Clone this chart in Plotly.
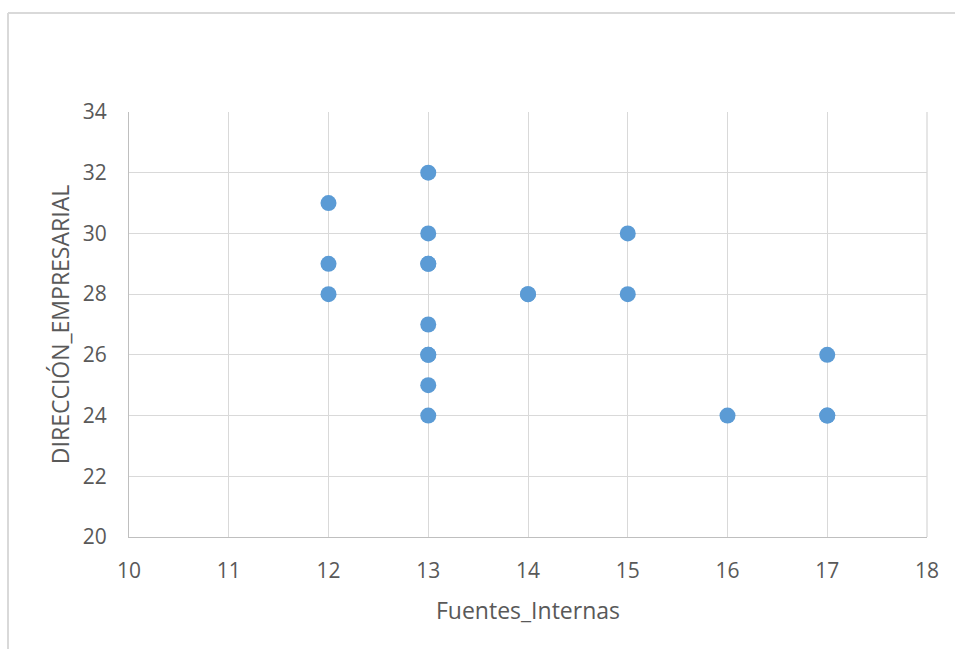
import plotly.graph_objects as go

# Observations: internal sources score vs. business management score
fuentes_internas = [12, 12, 12, 13, 13, 13, 13, 13, 13, 13, 13, 13, 14, 14, 15, 15, 16, 17, 17, 17]
direccion_empresarial = [31, 29, 28, 32, 30, 29, 29, 27, 26, 26, 25, 24, 28, 28, 30, 28, 24, 26, 24, 24]

x_ticks = [10, 11, 12, 13, 14, 15, 16, 17, 18]
y_ticks = [20, 22, 24, 26, 28, 30, 32, 34]

FONT = "'Open Sans', sans-serif"
TEXT = "#595959"
GRID = "#D9D9D9"

fig = go.Figure(
    go.Scatter(
        x=fuentes_internas,
        y=direccion_empresarial,
        mode="markers",
        marker=dict(size=16, color="#5B9BD5", line=dict(width=0)),
        hoverinfo="x+y",
    )
)

fig.update_layout(
    width=955,
    height=649,
    margin=dict(l=129, r=28, t=112, b=112),
    paper_bgcolor="white",
    plot_bgcolor="white",
    showlegend=False,
    font=dict(family=FONT, color=TEXT, size=21),
    xaxis=dict(
        range=[10, 18],
        tickvals=x_ticks,
        ticktext=[str(v) for v in x_ticks],
        showgrid=True,
        gridcolor=GRID,
        gridwidth=1.3,
        zeroline=False,
        showline=True,
        linecolor="#BFBFBF",
        linewidth=1.3,
        ticks="",
        ticklabelstandoff=15,
        title=dict(text="Fuentes_Internas", standoff=19, font=dict(size=23, color=TEXT)),
    ),
    yaxis=dict(
        range=[20, 34],
        tickvals=y_ticks,
        ticktext=[str(v) for v in y_ticks],
        showgrid=True,
        gridcolor=GRID,
        gridwidth=1.3,
        zeroline=False,
        showline=True,
        linecolor="#BFBFBF",
        linewidth=1.3,
        ticks="",
        ticklabelstandoff=17,
        title=dict(text="DIRECCIÓN_EMPRESARIAL", standoff=6, font=dict(size=23, color=TEXT)),
    ),
    shapes=[
        # right edge gridline at x=18
        dict(type="line", xref="paper", yref="paper", x0=1, x1=1, y0=0, y1=1,
             line=dict(color=GRID, width=1.3)),
        # chart-area frame (top and left edges)
        dict(type="line", xref="paper", yref="paper", x0=-0.1516, x1=1.04, y0=1.2329, y1=1.2329,
             line=dict(color="#D9D9D9", width=2)),
        dict(type="line", xref="paper", yref="paper", x0=-0.1516, x1=-0.1516, y0=1.2329, y1=-0.27,
             line=dict(color="#D9D9D9", width=2)),
    ],
)

fig.write_html("out.html")
